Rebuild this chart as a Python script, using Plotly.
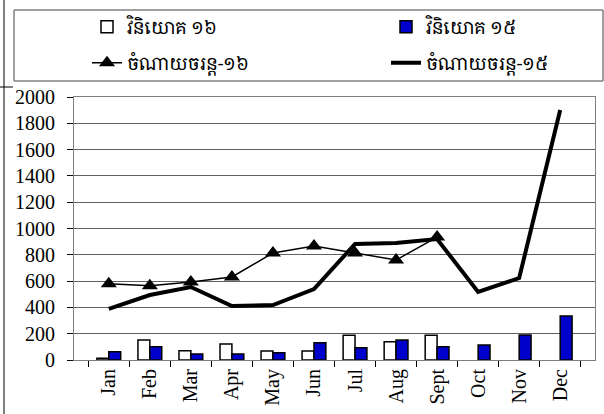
import plotly.graph_objects as go

# --- data ---
months = ["Jan", "Feb", "Mar", "Apr", "May", "Jun", "Jul", "Aug", "Sept", "Oct", "Nov", "Dec"]
invest_16 = [14, 152, 71, 122, 68, 68, 188, 139, 188, None, None, None]
invest_15 = [63, 101, 46, 46, 56, 132, 94, 152, 101, 114, 190, 335]
spend_16 = [580, 565, 593, 631, 814, 867, 814, 760, 935, None, None, None]
spend_15 = [388, 494, 555, 411, 418, 540, 882, 890, 920, 517, 623, 1901]

names = ["វិនិយោគ ១៦", "វិនិយោគ ១៥", "ចំណាយចរន្ត-១៦", "ចំណាយចរន្ត-១៥"]

serif = "Liberation Serif, Times New Roman, serif"
khmer = "Noto Serif Khmer, Khmer OS, Noto Sans Khmer, Noto Sans, serif"

fig = go.Figure()
fig.add_trace(go.Bar(x=months, y=invest_16, name=names[0], legend="legend",
                     marker=dict(color="white", line=dict(color="black", width=1.5))))
fig.add_trace(go.Bar(x=months, y=invest_15, name=names[1], legend="legend2",
                     marker=dict(color="#0000cc", line=dict(color="black", width=1.5))))
fig.add_trace(go.Scatter(x=months, y=spend_16, name=names[2], legend="legend3", mode="lines+markers",
                         line=dict(color="black", width=1.5),
                         marker=dict(symbol="triangle-up", size=14, color="black")))
fig.add_trace(go.Scatter(x=months, y=spend_15, name=names[3], legend="legend4", mode="lines",
                         line=dict(color="black", width=4)))

W, H = 604, 414
L, R, T, B = 74, 9, 97, 54
pw, ph = W - L - R, H - T - B


def px_x(x):
    return (x - L) / pw


def px_y(y):
    return (H - B - y) / ph


leg = dict(orientation="h", xanchor="left", yanchor="middle", bgcolor="rgba(0,0,0,0)",
           font=dict(family=khmer, size=18, color="black"))

# legend frame as four edges
fx0, fx1, fy0, fy1 = px_x(14), px_x(603), px_y(10), px_y(81)
frame = [dict(type="line", xref="paper", yref="paper", x0=a, x1=b, y0=c, y1=d,
              line=dict(color="#808080", width=1.5))
         for a, b, c, d in [(fx0, fx1, fy0, fy0), (fx0, fx1, fy1, fy1),
                            (fx0, fx0, fy0, fy1), (fx1, fx1, fy0, fy1)]]

fig.update_layout(
    width=W, height=H,
    margin=dict(l=L, r=R, t=T, b=B, autoexpand=False),
    paper_bgcolor="white", plot_bgcolor="white",
    showlegend=True,
    barmode="group", bargap=0.42, bargroupgap=0,
    font=dict(family=serif, size=20, color="black"),
    legend=dict(leg, x=px_x(87), y=px_y(27)),
    legend2=dict(leg, x=px_x(386), y=px_y(27)),
    legend3=dict(leg, x=px_x(87), y=px_y(63)),
    legend4=dict(leg, x=px_x(386), y=px_y(63)),
    xaxis=dict(type="category", tickangle=-90, tickson="boundaries", ticks="outside", ticklen=6,
               tickcolor="black", showline=True, linecolor="#808080", mirror=True,
               showgrid=False, automargin=False, tickfont=dict(family=serif, size=20)),
    yaxis=dict(range=[0, 2000], dtick=200, ticks="outside", ticklen=6, tickcolor="black",
               showline=True, linecolor="#808080", mirror=True, gridcolor="#606060",
               gridwidth=1, automargin=False, ticklabelstandoff=8,
               tickfont=dict(family=serif, size=20)),
    shapes=frame + [
        # chart outer border pieces
        dict(type="line", xref="paper", yref="paper", x0=px_x(4), x1=px_x(4),
             y0=px_y(0), y1=px_y(414), line=dict(color="black", width=1)),
        dict(type="line", xref="paper", yref="paper", x0=px_x(0), x1=px_x(13),
             y0=px_y(87), y1=px_y(87), line=dict(color="black", width=1)),
    ],
)

fig.write_html("out.html", config={"displayModeBar": False},
               post_script="document.body.style.margin='0';")
